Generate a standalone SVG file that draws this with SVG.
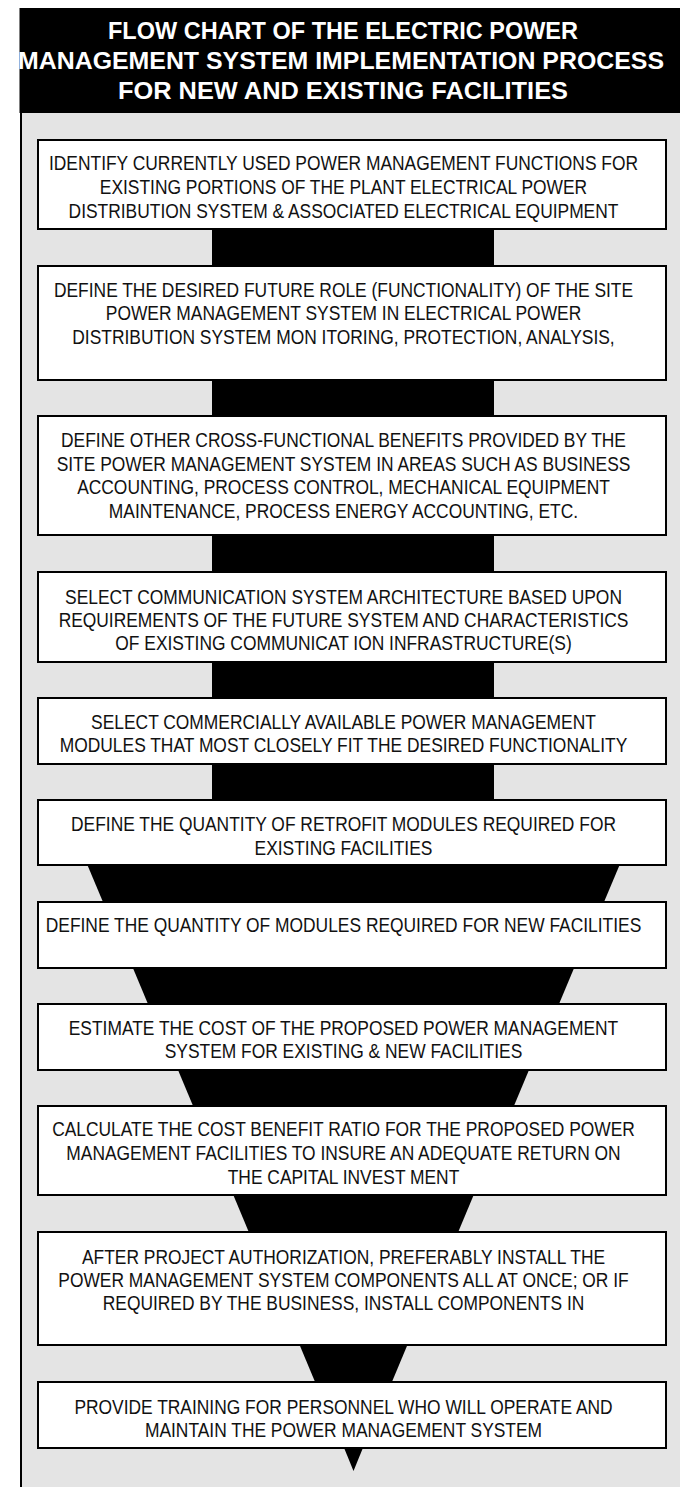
<svg xmlns="http://www.w3.org/2000/svg" width="680" height="1487" viewBox="0 0 680 1487">
  <style>
    .title { font-family: "Liberation Sans", Arial, sans-serif; font-weight: bold; font-size: 24.5px; fill: #ffffff; }
    .box { fill: #ffffff; stroke: #000000; stroke-width: 2; }
    .label { font-family: "Liberation Sans", Arial, sans-serif; font-size: 20px; fill: #111111; }
    .link { fill: #000000; stroke: none; }
  </style>

  <!-- page background -->
  <rect x="0" y="0" width="680" height="1487" fill="#ffffff"/>

  <!-- title banner -->
  <g id="title">
    <rect x="19.5" y="8" width="660.5" height="105" fill="#000000"/>
    <text class="title" x="343" y="39" text-anchor="middle" textLength="470" lengthAdjust="spacingAndGlyphs">FLOW CHART OF THE ELECTRIC POWER</text>
    <text class="title" x="341" y="69" text-anchor="middle" textLength="646" lengthAdjust="spacingAndGlyphs">MANAGEMENT SYSTEM IMPLEMENTATION PROCESS</text>
    <text class="title" x="343" y="99" text-anchor="middle" textLength="450" lengthAdjust="spacingAndGlyphs">FOR NEW AND EXISTING FACILITIES</text>
  </g>

  <!-- grey panel holding the flow, ruled on its left side -->
  <rect x="21" y="113" width="659" height="1374" fill="#e4e4e4"/>
  <line x1="21" y1="113" x2="21" y2="1487" stroke="#000000" stroke-width="2"/>

  <!-- connectors: straight column, then a narrowing funnel -->
  <g id="connectors">
    <rect class="link" x="212" y="228" width="282" height="39"/>
    <rect class="link" x="212" y="379" width="282" height="38"/>
    <rect class="link" x="212" y="534" width="282" height="39"/>
    <rect class="link" x="212" y="661" width="282" height="38"/>
    <rect class="link" x="212" y="763" width="282" height="38"/>
    <polygon class="link" points="87,864 620,864 603.6,903 103.4,903"/>
    <polygon class="link" points="132.5,967 574.5,967 558.6,1005 148.4,1005"/>
    <polygon class="link" points="177.6,1069 529.4,1069 513.5,1107 193.5,1107"/>
    <polygon class="link" points="232.9,1194 474.1,1194 457.8,1233 249.2,1233"/>
    <polygon class="link" points="299.2,1344 407.8,1344 391.5,1383 315.5,1383"/>
    <polygon class="link" points="343.7,1447 363.3,1447 353.5,1471"/>
  </g>

  <!-- each step: a white box, its lines set in a horizontally condensed face -->
  <g id="step1">
    <rect class="box" x="38" y="140" width="628" height="89"/>
    <g transform="matrix(0.87 0 0 1 343.5 0)" text-anchor="middle">
      <text class="label" x="0" y="170" text-anchor="middle">IDENTIFY CURRENTLY USED POWER MANAGEMENT FUNCTIONS FOR</text>
      <text class="label" x="0" y="194" text-anchor="middle">EXISTING PORTIONS OF THE PLANT ELECTRICAL POWER</text>
      <text class="label" x="0" y="218" text-anchor="middle">DISTRIBUTION SYSTEM &amp; ASSOCIATED ELECTRICAL EQUIPMENT</text>
    </g>
  </g>

  <g id="step2">
    <rect class="box" x="38" y="266" width="628" height="114"/>
    <g transform="matrix(0.87 0 0 1 343.5 0)" text-anchor="middle">
      <text class="label" x="0" y="297" text-anchor="middle">DEFINE THE DESIRED FUTURE ROLE (FUNCTIONALITY) OF THE SITE</text>
      <text class="label" x="0" y="320" text-anchor="middle">POWER MANAGEMENT SYSTEM IN ELECTRICAL POWER</text>
      <text class="label" x="0" y="344" text-anchor="middle">DISTRIBUTION SYSTEM MON ITORING, PROTECTION, ANALYSIS,</text>
    </g>
  </g>

  <g id="step3">
    <rect class="box" x="38" y="416" width="628" height="119"/>
    <g transform="matrix(0.87 0 0 1 343.5 0)" text-anchor="middle">
      <text class="label" x="0" y="447" text-anchor="middle">DEFINE OTHER CROSS-FUNCTIONAL BENEFITS PROVIDED BY THE</text>
      <text class="label" x="0" y="471" text-anchor="middle">SITE POWER MANAGEMENT SYSTEM IN AREAS SUCH AS BUSINESS</text>
      <text class="label" x="0" y="494" text-anchor="middle">ACCOUNTING, PROCESS CONTROL, MECHANICAL EQUIPMENT</text>
      <text class="label" x="0" y="518" text-anchor="middle">MAINTENANCE, PROCESS ENERGY ACCOUNTING, ETC.</text>
    </g>
  </g>

  <g id="step4">
    <rect class="box" x="38" y="572" width="628" height="90"/>
    <g transform="matrix(0.87 0 0 1 343.5 0)" text-anchor="middle">
      <text class="label" x="0" y="604" text-anchor="middle">SELECT COMMUNICATION SYSTEM ARCHITECTURE BASED UPON</text>
      <text class="label" x="0" y="627" text-anchor="middle">REQUIREMENTS OF THE FUTURE SYSTEM AND CHARACTERISTICS</text>
      <text class="label" x="0" y="650" text-anchor="middle">OF EXISTING COMMUNICAT ION INFRASTRUCTURE(S)</text>
    </g>
  </g>

  <g id="step5">
    <rect class="box" x="38" y="698" width="628" height="66"/>
    <g transform="matrix(0.87 0 0 1 343.5 0)" text-anchor="middle">
      <text class="label" x="0" y="729" text-anchor="middle">SELECT COMMERCIALLY AVAILABLE POWER MANAGEMENT</text>
      <text class="label" x="0" y="752" text-anchor="middle">MODULES THAT MOST CLOSELY FIT THE DESIRED FUNCTIONALITY</text>
    </g>
  </g>

  <g id="step6">
    <rect class="box" x="38" y="800" width="628" height="65"/>
    <g transform="matrix(0.87 0 0 1 343.5 0)" text-anchor="middle">
      <text class="label" x="0" y="831" text-anchor="middle">DEFINE THE QUANTITY OF RETROFIT MODULES REQUIRED FOR</text>
      <text class="label" x="0" y="855" text-anchor="middle">EXISTING FACILITIES</text>
    </g>
  </g>

  <g id="step7">
    <rect class="box" x="38" y="902" width="628" height="66"/>
    <g transform="matrix(0.87 0 0 1 343.5 0)" text-anchor="middle">
      <text class="label" x="0" y="932" text-anchor="middle">DEFINE THE QUANTITY OF MODULES REQUIRED FOR NEW FACILITIES</text>
    </g>
  </g>

  <g id="step8">
    <rect class="box" x="38" y="1004" width="628" height="66"/>
    <g transform="matrix(0.87 0 0 1 343.5 0)" text-anchor="middle">
      <text class="label" x="0" y="1035" text-anchor="middle">ESTIMATE THE COST OF THE PROPOSED POWER MANAGEMENT</text>
      <text class="label" x="0" y="1058" text-anchor="middle">SYSTEM FOR EXISTING &amp; NEW FACILITIES</text>
    </g>
  </g>

  <g id="step9">
    <rect class="box" x="38" y="1106" width="628" height="89"/>
    <g transform="matrix(0.87 0 0 1 343.5 0)" text-anchor="middle">
      <text class="label" x="0" y="1136" text-anchor="middle">CALCULATE THE COST BENEFIT RATIO FOR THE PROPOSED POWER</text>
      <text class="label" x="0" y="1160" text-anchor="middle">MANAGEMENT FACILITIES TO INSURE AN ADEQUATE RETURN ON</text>
      <text class="label" x="0" y="1184" text-anchor="middle">THE CAPITAL INVEST MENT</text>
    </g>
  </g>

  <g id="step10">
    <rect class="box" x="38" y="1232" width="628" height="113"/>
    <g transform="matrix(0.87 0 0 1 343.5 0)" text-anchor="middle">
      <text class="label" x="0" y="1264" text-anchor="middle">AFTER PROJECT AUTHORIZATION, PREFERABLY INSTALL THE</text>
      <text class="label" x="0" y="1287" text-anchor="middle">POWER MANAGEMENT SYSTEM COMPONENTS ALL AT ONCE; OR IF</text>
      <text class="label" x="0" y="1310" text-anchor="middle">REQUIRED BY THE BUSINESS, INSTALL COMPONENTS IN</text>
    </g>
  </g>

  <g id="step11">
    <rect class="box" x="38" y="1382" width="628" height="66"/>
    <g transform="matrix(0.87 0 0 1 343.5 0)" text-anchor="middle">
      <text class="label" x="0" y="1414" text-anchor="middle">PROVIDE TRAINING FOR PERSONNEL WHO WILL OPERATE AND</text>
      <text class="label" x="0" y="1437" text-anchor="middle">MAINTAIN THE POWER MANAGEMENT SYSTEM</text>
    </g>
  </g>
</svg>
